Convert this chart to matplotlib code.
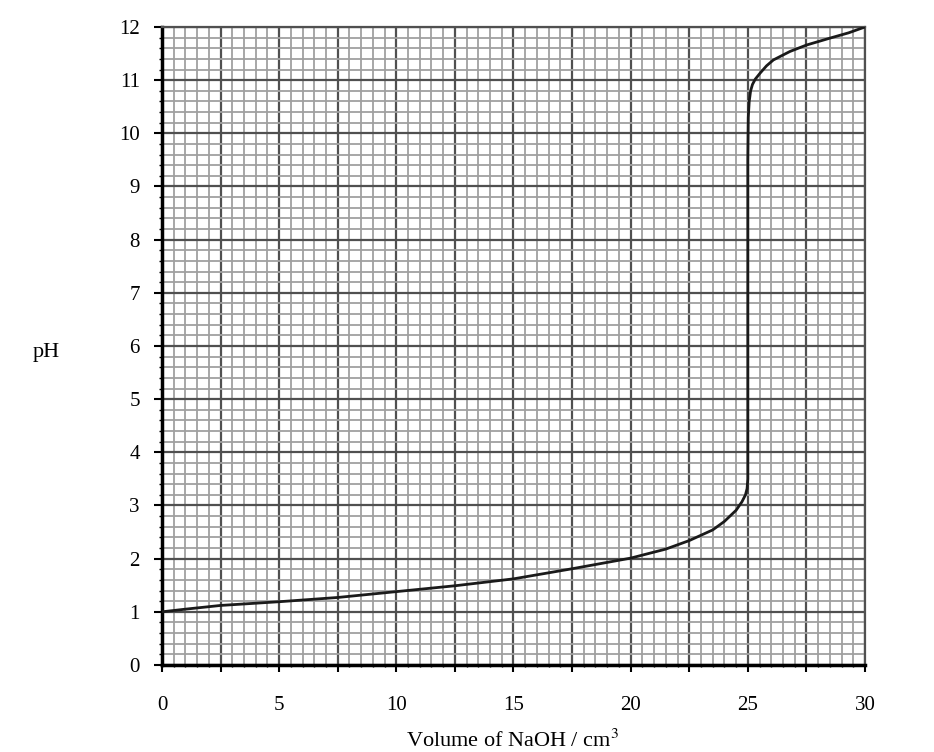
import matplotlib
matplotlib.use("Agg")
import matplotlib.pyplot as plt
import numpy as np
from matplotlib.ticker import MultipleLocator

volume = [0, 1, 2.5, 5, 7.5, 10, 12.5, 15, 17.5, 20, 21.5, 22.5, 23.5, 24, 24.5, 24.75, 24.9, 24.97, 25.0, 25.0, 25.0, 25.02, 25.06, 25.12, 25.2, 25.32, 25.52, 25.8, 26.09, 26.8, 27.5, 28.5, 29.3, 30]
ph = [1.0, 1.05, 1.12, 1.19, 1.27, 1.38, 1.49, 1.62, 1.81, 2.01, 2.18, 2.34, 2.54, 2.70, 2.91, 3.07, 3.2, 3.32, 3.5, 6.5, 9.5, 10.3, 10.6, 10.8, 10.92, 11.02, 11.13, 11.27, 11.38, 11.54, 11.66, 11.79, 11.89, 12.0]

x_labels = ["0", "", "5", "", "10", "", "15", "", "20", "", "25", "", "30"]
y_labels = [str(i) for i in range(13)]

plt.rcParams['font.family'] = ['Liberation Serif', 'DejaVu Serif']
plt.rcParams['mathtext.fontset'] = 'stix'

fig = plt.figure(figsize=(9.34, 7.52), dpi=100)
ax = fig.add_axes([0.1734, 0.1157, 0.7527, 0.8484])

ax.set_xlim(0, 30)
ax.set_ylim(0, 12)

ax.set_xticks(np.arange(0, 30.01, 2.5))
ax.set_xticklabels(x_labels)
ax.xaxis.set_minor_locator(MultipleLocator(0.5))
ax.set_yticks(np.arange(0, 12.01, 1))
ax.set_yticklabels(y_labels)
ax.yaxis.set_minor_locator(MultipleLocator(0.2))

ax.grid(which='minor', color='#a0a0a0', linewidth=1.3)
ax.grid(which='major', color='#505050', linewidth=1.6)
ax.set_axisbelow(True)

ax.tick_params(axis='x', which='major', direction='out', length=5, width=1.5, pad=17, labelsize=15, color='black')
ax.tick_params(axis='x', which='minor', direction='out', length=1.5, width=1, color='black')
ax.tick_params(axis='y', which='major', direction='out', length=6, width=1.5, pad=10, labelsize=15, color='black')
ax.tick_params(axis='y', which='minor', direction='out', length=2.2, width=1, color='black')

for s in ['left', 'bottom']:
    ax.spines[s].set_linewidth(2.5)
    ax.spines[s].set_color('black')
for s in ['top', 'right']:
    ax.spines[s].set_linewidth(1.6)
    ax.spines[s].set_color('#505050')

ax.plot(volume, ph, color='#1a1a1a', linewidth=2.0, solid_capstyle='round', zorder=5)

fig.text(46 / 934, 1 - 352 / 752, "pH", fontsize=16, ha='center', va='center')
fig.text(513 / 934, 1 - 741 / 752, "Volume of NaOH / cm$^{3}$", fontsize=16, ha='center', va='center')

fig.savefig("out.png", dpi=100, facecolor='white')
